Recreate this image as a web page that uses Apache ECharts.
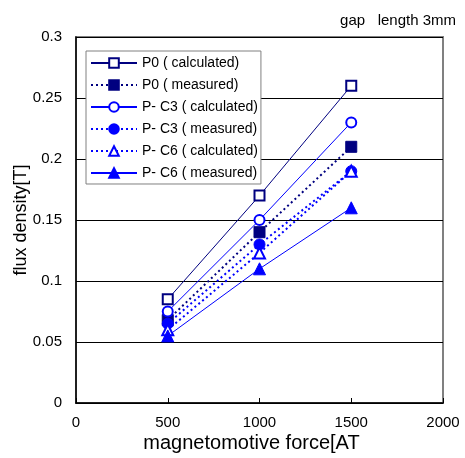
<!DOCTYPE html>
<html><head><meta charset="utf-8">
<script src="https://cdn.jsdelivr.net/npm/echarts@6/dist/echarts.min.js"></script>
<style>html,body{margin:0;padding:0;background:#fff}#c{width:465px;height:458px}</style>
</head><body><div id="c"></div>
<script>
const mmf = [500, 1000, 1500];
const p0Calc = [0.085, 0.17, 0.26];
const p0Meas = [0.068, 0.14, 0.21];
const c3Calc = [0.075, 0.15, 0.23];
const c3Meas = [0.065, 0.13, 0.19];
const c6Calc = [0.06, 0.123, 0.19];
const c6Meas = [0.055, 0.11, 0.16];
const names = ['P0 ( calculated)','P0 ( measured)','P- C3 ( calculated)','P- C3 ( measured)','P- C6 ( calculated)','P- C6 ( measured)'];
const xTicks = [0, 500, 1000, 1500, 2000];
const yTicks = [0, 0.05, 0.1, 0.15, 0.2, 0.25, 0.3];

const FONT = '"Liberation Sans", Arial, "Noto Sans CJK JP", sans-serif';
const NAVY = '#000080', BLUE = '#0000FF';
function pairs(v){ return mmf.map((x,i)=>[x, v[i]]); }
function ser(name, data, color, symbol, size, dotted){
  return {
    name, type:'line', data: pairs(data), symbol, symbolSize: size,
    itemStyle:{color: color, borderColor: color, borderWidth: symbol.startsWith('empty')?2:1},
    lineStyle:{color: color, width: dotted?2:1, type: dotted?[2,3]:'solid'},
    emphasis:{disabled:true}, animation:false
  };
}
const chart = echarts.init(document.getElementById('c'), null, {renderer:'canvas'});
chart.setOption({
  backgroundColor:'#fff',
  textStyle:{fontFamily: FONT},
  title:{text:'gap   length 3mm', right: 4, top: 8, textStyle:{fontSize:15, fontWeight:'normal', color:'#000', fontFamily: FONT}},
  grid:{left:76, right:22, top:37, bottom:55, show:true, borderColor:'#808080', borderWidth:2, outerBoundsMode:'none', containLabel:false},
  legend:{
    orient:'vertical', left:86, top:51, itemWidth:46, itemHeight:12, itemGap:8,
    padding:[5,3,4,4], borderColor:'#808080', borderWidth:1, backgroundColor:'#fff',
    textStyle:{fontSize:14, color:'#000', fontFamily: FONT},
    data: names
  },
  xAxis:{
    type:'value', min:0, max:2000, interval:500,
    name:'magnetomotive force[AT', nameLocation:'middle', nameGap:30, nameMoveOverlap:false,
    nameTextStyle:{fontSize:20, color:'#000', fontFamily: FONT, padding:[0,16,0,0]},
    axisLine:{lineStyle:{color:'#000', width:1.5}},
    axisTick:{inside:true, length:5, lineStyle:{color:'#000'}},
    axisLabel:{fontSize:15, color:'#000', margin:12, formatter: v => xTicks.includes(v)? String(v):''},
    splitLine:{show:false}
  },
  yAxis:{
    type:'value', min:0, max:0.3, interval:0.05,
    name:'flux density[T]', nameLocation:'middle', nameGap:46, nameRotate:90, nameMoveOverlap:false,
    nameTextStyle:{fontSize:18, color:'#000', fontFamily: FONT},
    axisLine:{show:true, lineStyle:{color:'#000', width:1.5}},
    axisTick:{show:false},
    axisLabel:{fontSize:15, color:'#000', margin:14, formatter: v => { const t = yTicks.find(y=>Math.abs(y-v)<1e-9); return t===undefined?'':String(t); }},
    splitLine:{show:true, lineStyle:{color:'#000', width:1}}
  },
  series:[
    ser(names[0], p0Calc, NAVY, 'emptyRect', 10, false),
    ser(names[1], p0Meas, NAVY, 'rect', 11, true),
    ser(names[2], c3Calc, BLUE, 'emptyCircle', 10, false),
    ser(names[3], c3Meas, BLUE, 'circle', 11, true),
    ser(names[4], c6Calc, BLUE, 'emptyTriangle', 11, true),
    ser(names[5], c6Meas, BLUE, 'triangle', 12, false)
  ]
});
</script></body></html>
